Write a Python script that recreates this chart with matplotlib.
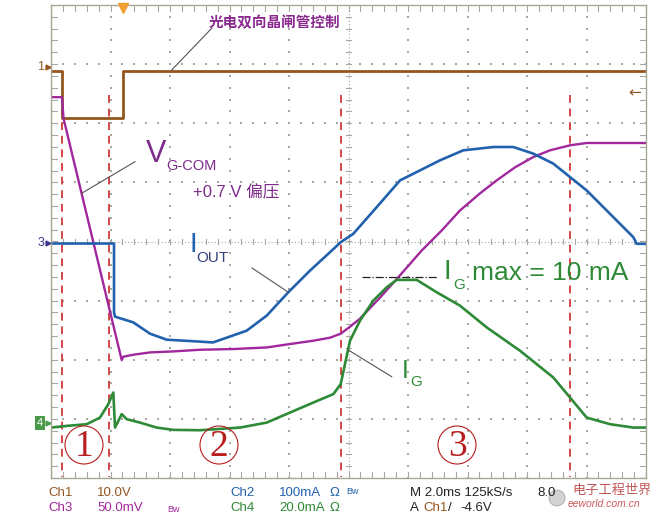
import numpy as np
import matplotlib
matplotlib.use("Agg")
import matplotlib.pyplot as plt
from matplotlib.lines import Line2D
from matplotlib.patches import Ellipse

plt.rcParams['font.family'] = ['Liberation Sans', 'Noto Sans CJK SC', 'DejaVu Sans']

W, H = 650, 516

# time axis in divisions (2.0 ms/div), amplitudes in screen divisions
ch1_t = [0, 0.185, 0.185, 1.205, 1.205, 10.0]
ch1_v = [2.88, 2.88, 2.085, 2.085, 2.88, 2.88]

ch3_t = [0, 0.185, 0.21, 1.188, 1.215, 1.383, 1.664, 2.055, 2.504, 3.064, 3.625,
         4.017, 4.408, 4.689, 4.869, 5.025, 5.193, 5.529, 5.832, 6.230, 6.566,
         6.874, 7.210, 7.491, 7.798, 8.106, 8.387, 8.723, 9.003, 10.0]
ch3_v = [2.441, 2.441, 2.085, -2.005, -1.949, -1.915, -1.876, -1.859, -1.831, -1.819,
         -1.792, -1.734, -1.678, -1.627, -1.559, -1.441, -1.305, -0.949, -0.610, -0.153,
         0.186, 0.525, 0.814, 1.034, 1.254, 1.429, 1.542, 1.627, 1.666, 1.666]

ch2_t = [0, 1.059, 1.059, 1.076, 1.383, 1.664, 1.945, 2.449, 2.723, 2.953, 3.289,
         3.625, 3.988, 4.353, 4.689, 4.869, 5.081, 5.474, 5.866, 6.202, 6.538,
         6.929, 7.434, 7.770, 8.106, 8.442, 8.723, 9.003, 9.339, 9.787, 9.843, 10.0]
ch2_v = [-0.034, -0.034, -1.198, -1.271, -1.368, -1.559, -1.661, -1.690, -1.707, -1.627,
         -1.508, -1.254, -0.859, -0.492, -0.181, -0.012, 0.131, 0.581, 1.034, 1.203,
         1.373, 1.542, 1.598, 1.598, 1.486, 1.317, 1.090, 0.864, 0.525, 0.073,
         -0.039, -0.039]

ch4_t = [0, 0.264, 0.600, 0.824, 0.963, 1.047, 1.076, 1.188, 1.272, 1.496, 1.776,
         2.055, 2.504, 3.176, 3.625, 4.017, 4.408, 4.745, 4.869, 4.941, 5.025,
         5.193, 5.417, 5.642, 5.810, 6.146, 6.482, 6.874, 7.323, 7.882, 8.442,
         8.723, 9.003, 9.395, 9.787, 10.0]
ch4_v = [-3.147, -3.119, -3.090, -2.978, -2.751, -2.554, -3.147, -2.920, -3.005, -3.063,
         -3.147, -3.186, -3.192, -3.147, -3.063, -2.893, -2.724, -2.581, -2.412, -2.073,
         -1.678, -1.339, -1.000, -0.775, -0.649, -0.649, -0.859, -1.085, -1.453, -1.847,
         -2.300, -2.639, -2.978, -3.090, -3.147, -3.147]

# phase boundaries (divisions)
marker_t = [0.185, 0.970, 4.874, 8.723]
phase_labels = ['1', '2', '3']

C_BROWN = '#94561f'
C_PURPLE = '#a0289c'
C_BLUE = '#2161ad'
C_GREEN = '#2e8a36'
C_RED = '#d24646'
C_GRID = '#a8a8a2'


def fp(x, y):
    """pixel -> figure fraction"""
    return x / W, 1 - y / H


fig = plt.figure(figsize=(6.5, 5.16), dpi=100)
fig.patch.set_facecolor('white')
ax = fig.add_axes([51 / W, 1 - 478 / H, 595 / W, 473 / H])
ax.set_xlim(0, 10)
ax.set_ylim(-4, 4)
ax.set_xticks([])
ax.set_yticks([])
for s in ax.spines.values():
    s.set_color('#a6a696')
    s.set_linewidth(1.0)

# dotted graticule
minor = np.arange(0, 10.01, 0.2)
minor_y = np.arange(-4, 4.01, 0.2)
for gx in range(1, 10):
    if gx == 5:
        continue
    ax.plot([gx] * len(minor_y), minor_y, ls='none', marker='s', ms=1.5, color=C_GRID, mew=0)
for gy in range(-3, 4):
    if gy == 0:
        continue
    ax.plot(minor, [gy] * len(minor), ls='none', marker='s', ms=1.5, color=C_GRID, mew=0)
# center lines: fine dotted line + ticks
ax.plot([0, 10], [0, 0], color=C_GRID, lw=0.8, ls=(0, (1, 2)))
ax.plot([5, 5], [-4, 4], color=C_GRID, lw=0.8, ls=(0, (1, 2)))
for xv in minor:
    ax.plot([xv, xv], [-0.05, 0.05], color=C_GRID, lw=0.8)
    ax.plot([xv, xv], [-4, -3.9], color=C_GRID, lw=0.8)
    ax.plot([xv, xv], [4, 3.9], color=C_GRID, lw=0.8)
for yv in minor_y:
    ax.plot([4.95, 5.05], [yv, yv], color=C_GRID, lw=0.8)
    ax.plot([0, 0.1], [yv, yv], color=C_GRID, lw=0.8)
    ax.plot([9.9, 10], [yv, yv], color=C_GRID, lw=0.8)

# phase boundary dashed lines
for mt in marker_t:
    ax.plot([mt, mt], [2.47, -3.98], color=C_RED, lw=1.4, ls=(0, (4, 3)))

# traces
ax.plot(ch1_t, ch1_v, color=C_BROWN, lw=2.0)
ax.plot(ch3_t, ch3_v, color=C_PURPLE, lw=1.7)
ax.plot(ch2_t, ch2_v, color=C_BLUE, lw=1.9)
ax.plot(ch4_t, ch4_v, color=C_GREEN, lw=1.9)

# trigger / reference markers
fig.add_artist(Line2D(*zip(fp(122.5, 8)), marker='v', ms=7, color='#f0a030', ls='none'))
fig.text(*fp(628, 93), '←', color=C_BROWN, fontsize=11, va='center', family='DejaVu Sans')
fig.text(*fp(44, 67), '1', color=C_BROWN, fontsize=9, va='center', ha='right')
fig.text(*fp(44, 243), '3', color='#3a3a8a', fontsize=9, va='center', ha='right')
fig.text(*fp(43, 423), '4', color='white', fontsize=8, va='center', ha='right',
         bbox=dict(boxstyle='square,pad=0.15', fc='#4a9a4a', ec='none'))
for yy, cc in [(67, C_BROWN), (243, '#3a3a8a'), (423, '#4a9a4a')]:
    fig.add_artist(Line2D(*zip(fp(48, yy)), marker='>', ms=3.5, color=cc, ls='none'))

# circled phase numbers
for lab, cx in zip(phase_labels, [84, 219, 457]):
    fig.add_artist(Ellipse(fp(cx, 445), 38 / W, 38 / H, transform=fig.transFigure,
                           fill=False, ec='#b81e1e', lw=0.8))
    fig.text(*fp(cx, 447), lab, color='#b81e1e', fontsize=27, ha='center', va='center',
             family='Liberation Serif')

# annotations
def leader(p0, p1, **kw):
    x0, y0 = fp(*p0)
    x1, y1 = fp(*p1)
    fig.add_artist(Line2D([x0, x1], [y0, y1], color=kw.get('color', '#555555'),
                          lw=kw.get('lw', 0.8), ls=kw.get('ls', '-')))

fig.text(*fp(209, 22), '光电双向晶闸管控制', color='#8a2a8e', fontsize=10.5,
         fontweight='bold', va='center', family=['Noto Sans CJK SC'])
leader((171.7, 70), (212, 28))

fig.text(*fp(146, 154), 'V', color='#7d2a8c', fontsize=22, va='center')
fig.text(*fp(166, 166), 'G-COM', color='#7d2a8c', fontsize=10.5, va='center')
fig.text(*fp(193, 192), '+0.7 V 偏压', color='#7d2a8c', fontsize=12, va='center')
leader((135, 161.7), (81.7, 193.3))

fig.text(*fp(189, 245), 'I', color=C_BLUE, fontsize=20, va='center')
fig.text(*fp(196, 258), 'OUT', color='#34407a', fontsize=11, va='center')
leader((252, 268), (288, 292))

fig.text(*fp(444, 272), 'I', color=C_GREEN, fontsize=20, va='center')
fig.text(*fp(453, 285), 'G', color=C_GREEN, fontsize=11, va='center')
fig.text(*fp(472, 273), 'max = 10 mA', color=C_GREEN, fontsize=19, va='center')
leader((362, 277), (437, 277), color='#222222', ls='-.', lw=0.9)

fig.text(*fp(402, 371), 'I', color=C_GREEN, fontsize=18, va='center')
fig.text(*fp(410, 382), 'G', color=C_GREEN, fontsize=11, va='center')
leader((391.7, 376.7), (348.3, 350))

# status bar
row1 = [('Ch1', 48, C_BROWN), ('10.0V', 97, C_BROWN), ('Ch2', 230, C_BLUE),
        ('100mA', 279, C_BLUE), ('Ω', 329, C_BLUE), ('M 2.0ms 125kS/s', 410, '#222222'),
        ('8.0', 537, '#222222')]
row2 = [('Ch3', 48, C_PURPLE), ('50.0mV', 97, C_PURPLE), ('Ch4', 230, C_GREEN),
        ('20.0mA', 279, C_GREEN), ('Ω', 329, C_GREEN), ('A', 410, '#222222'),
        ('Ch1', 423, C_BROWN), ('/', 448, '#222222'), ('-4.6V', 460, '#222222')]
for txt, x, c in row1:
    fig.text(*fp(x, 493), txt, color=c, fontsize=9.5, va='center')
for txt, x, c in row2:
    fig.text(*fp(x, 508), txt, color=c, fontsize=9.5, va='center')
fig.text(*fp(346, 491), 'Bw', color=C_BLUE, fontsize=6.5, va='center')
fig.text(*fp(167, 509), 'Bw', color=C_PURPLE, fontsize=6.5, va='center')

# watermark
fig.add_artist(Ellipse(fp(557, 498), 16 / W, 16 / H, transform=fig.transFigure,
                       fc='#c8c8c8', ec='#999999', lw=0.6, alpha=0.8))
fig.text(*fp(572, 490), '电子工程世界', color='#b03030', fontsize=9.5, va='center',
         family=['Noto Sans CJK SC'], alpha=0.8)
fig.text(*fp(568, 504), 'eeworld.com.cn', color='#c03030', fontsize=7.5, va='center',
         style='italic', alpha=0.8)

fig.savefig('out.png', dpi=100, facecolor='white')
